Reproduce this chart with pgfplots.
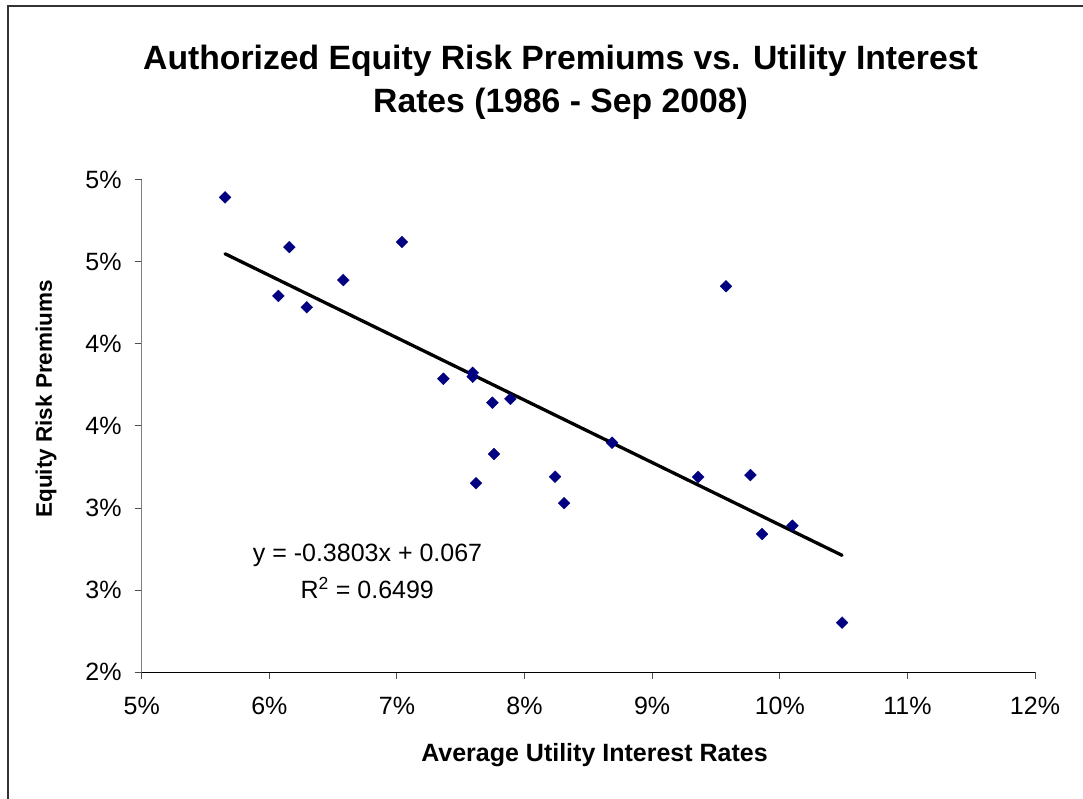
\documentclass[border=0pt]{standalone}
\usepackage{fontspec}
\setmainfont{Liberation Sans}
\usepackage{pgfplots}
\pgfplotsset{compat=1.18}
\definecolor{navy}{HTML}{000080}
\definecolor{axisgray}{HTML}{808080}
\definecolor{framegray}{HTML}{333333}
\begin{document}
\begin{tikzpicture}[x=1pt,y=1pt]
\useasboundingbox (0,0) rectangle (1083,798);
\fill[white] (0,0) rectangle (1083,798);
\draw[line width=1.8pt, framegray] (8.3,-5) -- (8.3,792) -- (1090,792);
\begin{axis}[
  at={(141.7pt,126pt)}, anchor=south west,
  scale only axis, width=893.3pt, height=492pt,
  xmin=5, xmax=12, ymin=2, ymax=5,
  axis x line=bottom, axis y line=left, separate axis lines,
  x axis line style={-, black, line width=1pt},
  y axis line style={-, axisgray, line width=1.5pt},
  tick align=outside, major tick length=7pt,
  xtick style={axisgray!60!black, line width=1pt},
  ytick style={axisgray!60!black, line width=1pt},
  xtick={5,6,7,8,9,10,11,12},
  xticklabels={5\%,6\%,7\%,8\%,9\%,10\%,11\%,12\%},
  ytick={2,2.5,3,3.5,4,4.5,5},
  yticklabels={2\%,3\%,3\%,4\%,4\%,5\%,5\%},
  xticklabel style={font=\fontsize{25pt}{30pt}\selectfont, inner sep=0pt, anchor=north, yshift=-18pt},
  yticklabel style={font=\fontsize{25pt}{30pt}\selectfont, inner sep=0pt, anchor=east, xshift=-13pt},
  xlabel={Average Utility Interest Rates},
  ylabel={Equity Risk Premiums},
  xlabel style={font=\bfseries\fontsize{25pt}{30pt}\selectfont, at={(axis description cs:0.5069,-0.1823)}, anchor=base, inner sep=0pt},
  ylabel style={font=\bfseries\fontsize{22.5pt}{27pt}\selectfont, at={(axis description cs:-0.1007,0.555)}, anchor=base, inner sep=0pt},
  clip=false,
]
\addplot[only marks, mark=square*, mark size=4.2pt,
  mark options={rotate=45, fill=navy, draw=navy, line width=0.3pt}] table {
x y
5.653 4.894
6.157 4.591
6.071 4.293
6.293 4.224
6.580 4.390
7.040 4.622
7.364 3.788
7.594 3.825
7.594 3.801
7.748 3.642
7.889 3.665
7.761 3.329
7.620 3.151
8.239 3.191
8.310 3.030
8.686 3.398
9.360 3.189
9.579 4.352
9.770 3.201
9.861 2.841
10.099 2.892
10.488 2.301
};
\addplot[black, line width=3.3pt, line cap=round, no marks] coordinates {(5.653,4.5502) (10.488,2.7114)};
\end{axis}
\node[anchor=base, font=\bfseries\fontsize{33.7pt}{40pt}\selectfont, inner sep=0pt] at (560.5,728) {Authorized Equity Risk Premiums vs. Utility Interest};
\node[anchor=base, font=\bfseries\fontsize{33.7pt}{40pt}\selectfont, inner sep=0pt] at (560.5,685) {Rates (1986 - Sep 2008)};
\node[anchor=base, font=\fontsize{25pt}{30pt}\selectfont, inner sep=0pt] at (367.5,236.3) {y = -0.3803x + 0.067};
\node[anchor=base, font=\fontsize{25pt}{30pt}\selectfont, inner sep=0pt] at (367.3,199.7) {R\textsuperscript{2} = 0.6499};
\end{tikzpicture}
\end{document}
